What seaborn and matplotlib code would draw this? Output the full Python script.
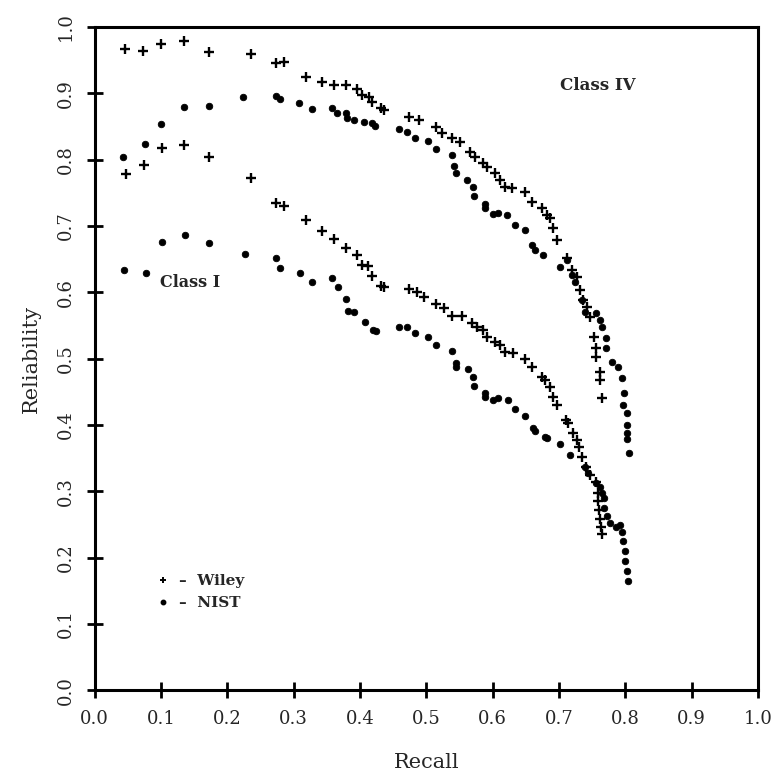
import matplotlib

matplotlib.use("Agg")
import matplotlib.pyplot as plt
import pandas as pd
import seaborn as sns
from matplotlib.lines import Line2D

sns.set_theme(style="ticks")
plt.rcParams["font.family"] = ["DejaVu Serif"]

# Class IV, Wiley library (plus marks)
wiley_iv_recall = [0.045, 0.073, 0.100, 0.135, 0.173, 0.235, 0.273, 0.285, 0.318, 0.342,
                   0.361, 0.379, 0.395, 0.403, 0.414, 0.418, 0.432, 0.436, 0.474, 0.489,
                   0.515, 0.524, 0.538, 0.550, 0.565, 0.573, 0.585, 0.591, 0.603, 0.611,
                   0.618, 0.629, 0.648, 0.659, 0.674, 0.682, 0.686, 0.691, 0.697, 0.712,
                   0.720, 0.727, 0.732, 0.736, 0.742, 0.747, 0.752, 0.755, 0.755, 0.761,
                   0.762, 0.765]
wiley_iv_rel = [0.967, 0.964, 0.974, 0.979, 0.962, 0.959, 0.946, 0.947, 0.925, 0.917,
                0.912, 0.912, 0.906, 0.897, 0.895, 0.887, 0.878, 0.875, 0.864, 0.860,
                0.849, 0.840, 0.833, 0.827, 0.811, 0.804, 0.795, 0.789, 0.780, 0.769,
                0.759, 0.757, 0.751, 0.736, 0.727, 0.716, 0.712, 0.697, 0.679, 0.652,
                0.634, 0.623, 0.603, 0.588, 0.578, 0.563, 0.532, 0.516, 0.502, 0.480,
                0.468, 0.440]

# Class IV, NIST library (dots)
nist_iv_recall = [0.042, 0.076, 0.100, 0.135, 0.173, 0.224, 0.274, 0.279, 0.308, 0.327,
                  0.358, 0.365, 0.379, 0.380, 0.391, 0.406, 0.418, 0.423, 0.459, 0.471,
                  0.483, 0.502, 0.515, 0.538, 0.542, 0.545, 0.561, 0.570, 0.571, 0.588,
                  0.588, 0.600, 0.608, 0.621, 0.633, 0.648, 0.659, 0.664, 0.676, 0.702,
                  0.712, 0.720, 0.724, 0.735, 0.739, 0.755, 0.762, 0.765, 0.770, 0.770,
                  0.780, 0.789, 0.795, 0.798, 0.797, 0.803, 0.803, 0.803, 0.803, 0.806]
nist_iv_rel = [0.804, 0.824, 0.854, 0.879, 0.881, 0.894, 0.896, 0.891, 0.885, 0.876,
               0.878, 0.870, 0.870, 0.863, 0.860, 0.857, 0.855, 0.851, 0.846, 0.842,
               0.833, 0.828, 0.816, 0.807, 0.790, 0.780, 0.769, 0.759, 0.745, 0.733,
               0.727, 0.718, 0.719, 0.716, 0.701, 0.694, 0.671, 0.664, 0.656, 0.638,
               0.649, 0.626, 0.615, 0.588, 0.570, 0.569, 0.558, 0.548, 0.531, 0.516,
               0.495, 0.487, 0.470, 0.448, 0.430, 0.418, 0.400, 0.388, 0.378, 0.358]

# Class I, Wiley library (plus marks)
wiley_i_recall = [0.047, 0.074, 0.101, 0.135, 0.173, 0.235, 0.273, 0.286, 0.318, 0.342,
                  0.361, 0.379, 0.395, 0.403, 0.412, 0.418, 0.432, 0.436, 0.474, 0.486,
                  0.497, 0.515, 0.526, 0.538, 0.553, 0.568, 0.576, 0.585, 0.591, 0.603,
                  0.611, 0.618, 0.630, 0.648, 0.659, 0.674, 0.679, 0.686, 0.691, 0.697,
                  0.711, 0.714, 0.721, 0.727, 0.730, 0.735, 0.741, 0.747, 0.755, 0.758,
                  0.758, 0.760, 0.762, 0.763, 0.765]
wiley_i_rel = [0.778, 0.792, 0.817, 0.822, 0.804, 0.772, 0.735, 0.730, 0.709, 0.692,
               0.680, 0.667, 0.656, 0.641, 0.640, 0.624, 0.609, 0.608, 0.605, 0.600,
               0.593, 0.582, 0.576, 0.564, 0.564, 0.554, 0.548, 0.543, 0.532, 0.525,
               0.520, 0.510, 0.508, 0.499, 0.487, 0.472, 0.468, 0.457, 0.442, 0.430,
               0.407, 0.403, 0.388, 0.377, 0.367, 0.351, 0.336, 0.324, 0.314, 0.297,
               0.285, 0.272, 0.258, 0.246, 0.235]

# Class I, NIST library (dots)
nist_i_recall = [0.044, 0.077, 0.102, 0.136, 0.173, 0.227, 0.274, 0.280, 0.309, 0.327,
                 0.358, 0.367, 0.379, 0.382, 0.391, 0.408, 0.420, 0.424, 0.459, 0.471,
                 0.483, 0.503, 0.515, 0.538, 0.544, 0.545, 0.562, 0.570, 0.571, 0.588,
                 0.588, 0.600, 0.608, 0.623, 0.633, 0.648, 0.661, 0.664, 0.679, 0.682,
                 0.702, 0.717, 0.739, 0.744, 0.755, 0.762, 0.765, 0.767, 0.768, 0.772,
                 0.777, 0.785, 0.792, 0.795, 0.797, 0.800, 0.800, 0.803, 0.804]
nist_i_rel = [0.633, 0.629, 0.676, 0.686, 0.674, 0.658, 0.652, 0.637, 0.629, 0.615,
              0.621, 0.608, 0.590, 0.572, 0.570, 0.555, 0.543, 0.541, 0.548, 0.548,
              0.538, 0.532, 0.520, 0.511, 0.493, 0.487, 0.484, 0.472, 0.458, 0.448,
              0.442, 0.437, 0.440, 0.437, 0.424, 0.413, 0.395, 0.391, 0.382, 0.380,
              0.371, 0.354, 0.336, 0.327, 0.312, 0.306, 0.297, 0.290, 0.275, 0.262,
              0.252, 0.246, 0.249, 0.238, 0.225, 0.210, 0.195, 0.180, 0.165]

series = [
    ("Wiley", "IV", wiley_iv_recall, wiley_iv_rel),
    ("NIST", "IV", nist_iv_recall, nist_iv_rel),
    ("Wiley", "I", wiley_i_recall, wiley_i_rel),
    ("NIST", "I", nist_i_recall, nist_i_rel),
]
df = pd.concat(
    [pd.DataFrame({"recall": r, "reliability": v, "library": lib, "cls": c})
     for lib, c, r, v in series],
    ignore_index=True,
)

fig = plt.figure(figsize=(7.76, 7.72), dpi=100)
ax = fig.add_axes([0.122, 0.106, 0.855, 0.859])

wiley = df[df["library"] == "Wiley"]
nist = df[df["library"] == "NIST"]
sns.scatterplot(data=wiley, x="recall", y="reliability", marker="+", s=42,
                color="black", linewidth=1.7, ax=ax, legend=False)
sns.scatterplot(data=nist, x="recall", y="reliability", marker="o", s=22,
                color="black", edgecolor="black", linewidth=0.6, ax=ax, legend=False)

ax.set_xlim(0, 1)
ax.set_ylim(0, 1)
ticks = [i / 10 for i in range(11)]
ax.set_xticks(ticks)
ax.set_yticks(ticks)
ax.set_xticklabels([f"{t:.1f}" for t in ticks], fontsize=13)
ax.set_yticklabels([f"{t:.1f}" for t in ticks], fontsize=13, rotation=90, va="center")
ax.tick_params(axis="both", direction="inout", length=12, width=2, color="black", pad=8)
for side in ["left", "bottom", "top", "right"]:
    ax.spines[side].set_linewidth(2.2)
    ax.spines[side].set_color("black")

ax.set_xlabel("Recall", fontsize=15, labelpad=18)
ax.set_ylabel("Reliability", fontsize=15, labelpad=12)

ax.text(0.758, 0.912, "Class IV", fontsize=12, fontweight="bold", ha="center", va="center")
ax.text(0.144, 0.614, "Class I", fontsize=11.5, fontweight="bold", ha="center", va="center")

handles = [
    Line2D([], [], marker="+", ls="none", color="black", markersize=5, markeredgewidth=1.4),
    Line2D([], [], marker="o", ls="none", color="black", markersize=3.2),
]
ax.legend(handles, ["–  Wiley", "–  NIST"], loc="lower left", bbox_to_anchor=(0.07, 0.1),
          frameon=False, handlelength=1.0, handletextpad=0.6, labelspacing=0.5,
          prop={"weight": "bold", "size": 11})

fig.savefig("out.png", dpi=100)
